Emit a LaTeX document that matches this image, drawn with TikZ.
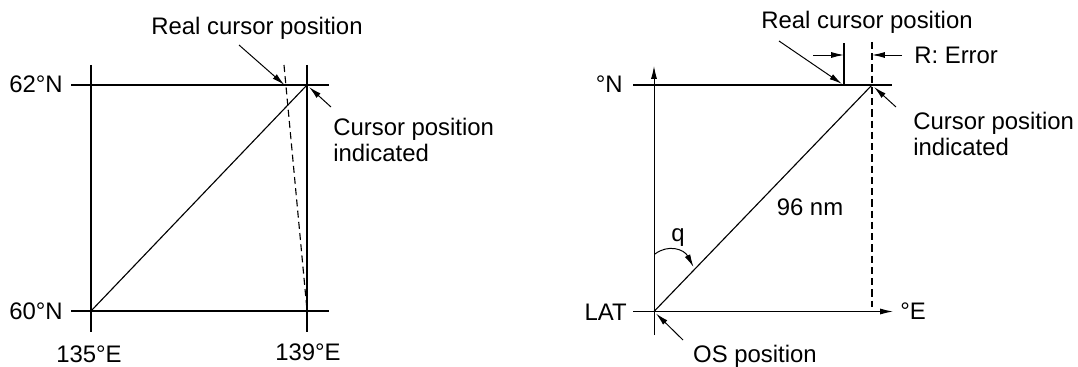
\documentclass[tikz,border=0pt]{standalone}
\usepackage{fontspec}
\setmainfont{Liberation Sans}
\usetikzlibrary{arrows.meta, positioning, calc}

\begin{document}
\begin{tikzpicture}[
    x=0.025cm, y=-0.025cm,
    lbl/.style  = {font=\fontsize{17}{18.5}\selectfont, inner sep=0pt, align=left},
    gridln/.style = {line width=0.8pt},
    arr/.style  = {-{Latex[length=3.2mm, width=1.5mm]}, line width=0.7pt},
  ]
  \useasboundingbox (0,0) rectangle (1078,367);

  % left chart
  \coordinate (sw) at (91,311);
  \coordinate (ne) at (307,85);
  \coordinate (real) at (284.5,85);
  \draw[gridln] (91,65) -- (91,332);
  \draw[gridln] (307,65) -- (307,332);
  \draw[gridln] (71,85) -- (329,85);
  \draw[gridln] (71,311) -- (329,311);
  \draw[gridln] (sw) -- (ne);
  \draw[gridln, dashed, dash pattern=on 5pt off 3pt] (284,65) -- (307,310);

  \node[lbl, anchor=base east] (n62) at (63,93) {62°N};
  \node[lbl, anchor=base east] (n60) at (63,319) {60°N};
  \node[lbl, anchor=base] (e135) at (89,362) {135°E};
  \node[lbl, anchor=base] (e139) at (308,360) {139°E};
  \node[lbl, anchor=base] (realL) at (257,35) {Real cursor position};
  \node[lbl, anchor=north west] (indL) at (333,118) {Cursor position\\indicated};
  \coordinate (realLs) at (239,45);
  \coordinate (indLs) at (331,107);
  \draw[arr] (realLs) -- (real);
  \draw[arr] (indLs) -- ($(ne)+(2,2)$);

  % right chart
  \coordinate (os) at (654,311.5);
  \coordinate (cur) at (872,85);
  \coordinate (realR) at (844,85);
  \draw[arr] (654,335) -- (654,66);
  \draw[arr] (633,311.5) -- (893,311.5);
  \draw[gridln] (633,85) -- (892,85);
  \draw[gridln] (os) -- (cur);
  \draw[gridln, dashed, dash pattern=on 5pt off 3pt] (872,42) -- (872,307);
  \draw[gridln] (realR) -- (844,43);
  \draw[arr] (813,55) -- (844,55);
  \draw[arr] (902,55) -- (872,55);
  \draw[arr] (655,254) .. controls (668,244) and (684,249) .. (693.5,267);

  \node[lbl, anchor=base east] (latN) at (623,93) {°N};
  \node[lbl, anchor=base east] (lat) at (627,320) {LAT};
  \node[lbl, anchor=base west] (lonE) at (900,319.5) {°E};
  \node[lbl, anchor=base] (dist) at (810,216) {96 nm};
  \node[lbl, anchor=base] (theta) at (678,241.5) {q};
  \node[lbl, anchor=base] (realRt) at (867,28.5) {Real cursor position};
  \node[lbl, anchor=base west] (err) at (914,64) {R: Error};
  \node[lbl, anchor=north west] (indR) at (913,111.5) {Cursor position\\indicated};
  \node[lbl, anchor=base] (osl) at (755,362.5) {OS position};
  \coordinate (realRs) at (779,41);
  \coordinate (indRs) at (896,107);
  \coordinate (osls) at (683,340);
  \draw[arr] (realRs) -- ($(realR)+(-2,-1)$);
  \draw[arr] (indRs) -- ($(cur)+(2,2)$);
  \draw[arr] (osls) -- ($(os)+(2,2)$);
\end{tikzpicture}
\end{document}
